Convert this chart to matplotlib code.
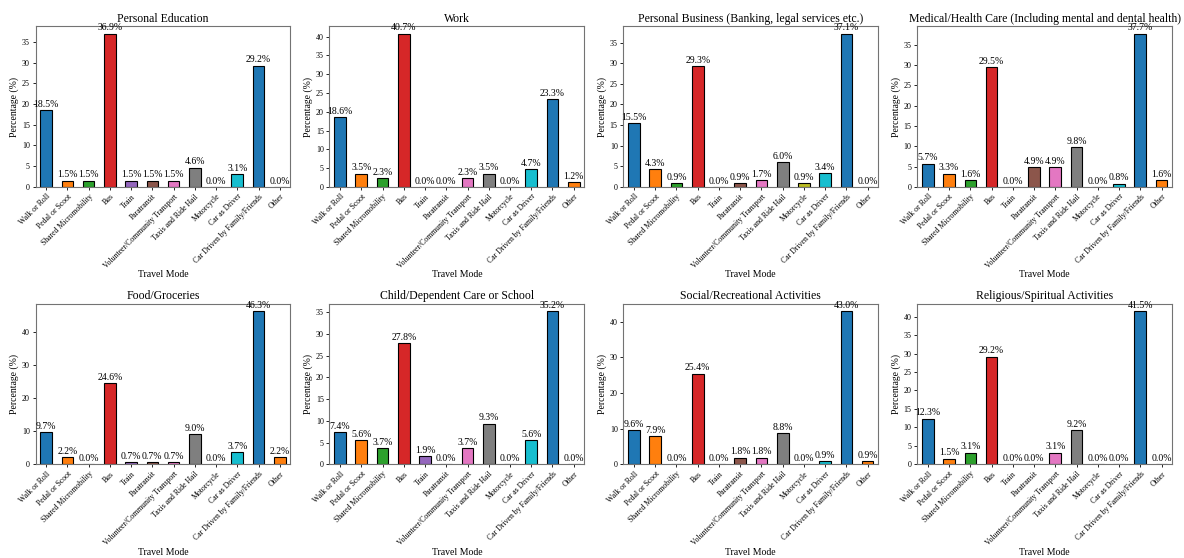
import matplotlib
matplotlib.use("Agg")
import matplotlib.pyplot as plt
import numpy as np

plt.rcParams['font.family'] = ['Liberation Serif', 'DejaVu Serif']

modes = ["Walk or Roll", "Pedal or Scoot", "Shared Micromobility", "Bus", "Train",
         "Paratransit", "Volunteer/Community Transport", "Taxis and Ride Hail",
         "Motorcycle", "Car as Driver", "Car Driven by Family/Friends", "Other"]

titles = ["Personal Education", "Work",
          "Personal Business (Banking, legal services etc.)",
          "Medical/Health Care (Including mental and dental health)",
          "Food/Groceries", "Child/Dependent Care or School",
          "Social/Recreational Activities", "Religious/Spiritual Activities"]

personal_education = [18.5, 1.5, 1.5, 36.9, 1.5, 1.5, 1.5, 4.6, 0.0, 3.1, 29.2, 0.0]
work = [18.6, 3.5, 2.3, 40.7, 0.0, 0.0, 2.3, 3.5, 0.0, 4.7, 23.3, 1.2]
personal_business = [15.5, 4.3, 0.9, 29.3, 0.0, 0.9, 1.7, 6.0, 0.9, 3.4, 37.1, 0.0]
medical = [5.7, 3.3, 1.6, 29.5, 0.0, 4.9, 4.9, 9.8, 0.0, 0.8, 37.7, 1.6]
food = [9.7, 2.2, 0.0, 24.6, 0.7, 0.7, 0.7, 9.0, 0.0, 3.7, 46.3, 2.2]
child_care = [7.4, 5.6, 3.7, 27.8, 1.9, 0.0, 3.7, 9.3, 0.0, 5.6, 35.2, 0.0]
social = [9.6, 7.9, 0.0, 25.4, 0.0, 1.8, 1.8, 8.8, 0.0, 0.9, 43.0, 0.9]
religious = [12.3, 1.5, 3.1, 29.2, 0.0, 0.0, 3.1, 9.2, 0.0, 0.0, 41.5, 0.0]

series = [personal_education, work, personal_business, medical,
          food, child_care, social, religious]

tab10 = plt.get_cmap("tab10").colors
colors = [tab10[i % 10] for i in range(len(modes))]

fig, axes = plt.subplots(2, 4, figsize=(11.84, 5.58), dpi=100)
fig.subplots_adjust(left=0.030, right=0.990, top=0.953, bottom=0.168,
                    wspace=0.153, hspace=0.725)

x = np.arange(len(modes))
for ax, title, vals in zip(axes.flat, titles, series):
    bars = ax.bar(x, vals, width=0.55, color=colors, edgecolor="black", linewidth=0.8)
    ax.bar_label(bars, labels=[f"{v:.1f}%" for v in vals], fontsize=7, padding=1)
    ax.set_xlim(-0.5, len(modes) - 0.5)
    ax.set_title(title, fontsize=8.5, pad=3)
    ax.set_xlabel("Travel Mode", fontsize=7, labelpad=0.5)
    ax.set_ylabel("Percentage (%)", fontsize=7, labelpad=2)
    ax.set_xticks(x)
    ax.set_xticklabels(modes, rotation=45, ha="right", fontsize=5.6,
                       rotation_mode="anchor")
    ax.tick_params(axis="y", labelsize=5.8, length=2.5, pad=1.5, width=0.6)
    ax.tick_params(axis="x", length=2.5, pad=1.5, width=0.6)
    for s in ax.spines.values():
        s.set_color("0.45")
        s.set_linewidth(0.8)

fig.savefig("out.png", dpi=100)
